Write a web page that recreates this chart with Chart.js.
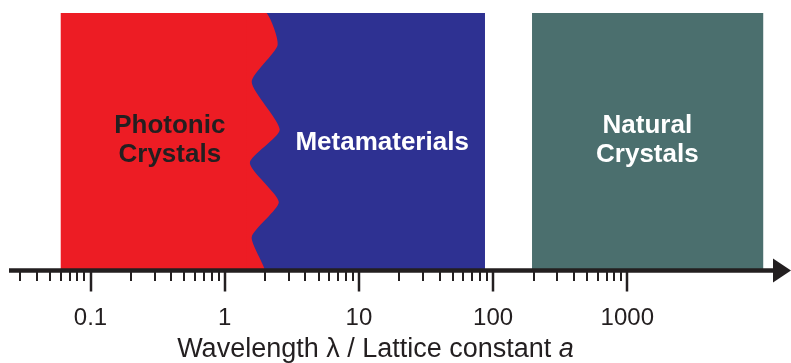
<!DOCTYPE html>
<html>
<head>
<meta charset="utf-8">
<script src="https://cdn.jsdelivr.net/npm/chart.js@4.4.1/dist/chart.umd.min.js"></script>
<style>
  html, body { margin: 0; padding: 0; background: #fff; }
  canvas { display: block; }
</style>
</head>
<body>
<canvas id="scaleChart" width="791" height="363"></canvas>
<script>
// Tick marks on the wavelength axis (minor 2..9 x 10^n, labelled decades)
const tickValues = [
  0.03, 0.04, 0.05, 0.06, 0.07, 0.08, 0.09,
  0.1, 0.2, 0.3, 0.4, 0.5, 0.6, 0.7, 0.8, 0.9,
  1, 2, 3, 4, 5, 6, 7, 8, 9,
  10, 20, 30, 40, 50, 60, 70, 80, 90,
  100, 200, 300, 400, 500, 600, 700, 800, 900,
  1000
];
const majorTicks = [0.1, 1, 10, 100, 1000];
const majorLabels = ['0.1', '1', '10', '100', '1000'];

// Regions (x = lambda / a, y = 0..1 band height)
// photonic crystals: flat part plus the wavy border towards metamaterials
const photonicX = [0.06, 1.5, 1.5, 0.06];
const photonicY = [1, 1, 0, 0];
const waveX = [1.45, 2.05, 2.48, 1.59, 2.57, 1.54, 2.53, 1.59, 1.99, 1.45];
const waveY = [1, 1, 0.876, 0.733, 0.547, 0.419, 0.267, 0.132, 0, 0];
const metaX = [1.5, 87, 87, 1.5];
const metaY = [1, 1, 0, 0];
const naturalX = [195, 10300, 10300, 195];
const naturalY = [1, 1, 0, 0];

const regionNames = [['Photonic', 'Crystals'], ['Metamaterials'], ['Natural', 'Crystals']];
const regionLabelX = [0.39, 14.9, 1410];
const regionLabelY = [0.515, 0.506, 0.515];
const regionTextColors = ['#231f20', '#ffffff', '#ffffff'];

const ink = '#231f20';
const red = '#ed1c24';
const blue = '#2e3192';
const teal = '#4b6f6e';
const fontFamily = "'Liberation Sans', Arial, Helvetica, sans-serif";

const toPoints = (xs, ys) => xs.map((x, i) => ({ x, y: ys[i] }));

function region(label, xs, ys, color, tension) {
  return {
    label,
    data: toPoints(xs, ys),
    showLine: true,
    fill: 'shape',
    backgroundColor: color,
    borderWidth: 0,
    pointRadius: 0,
    tension: tension || 0
  };
}

// axis line, tick marks, arrow, region names and axis title
const decor = {
  id: 'decor',
  afterDatasetsDraw(chart) {
    const { ctx, scales: { x, y } } = chart;
    ctx.save();
    ctx.font = 'bold 26px ' + fontFamily;
    ctx.textAlign = 'center';
    ctx.textBaseline = 'alphabetic';
    regionNames.forEach((lines, i) => {
      const cx = x.getPixelForValue(regionLabelX[i]);
      const cy = y.getPixelForValue(regionLabelY[i]);
      const lh = 29;
      const first = cy + 9.3 - (lines.length - 1) * lh / 2;
      ctx.fillStyle = regionTextColors[i];
      lines.forEach((t, j) => ctx.fillText(t, cx, first + j * lh));
    });
    ctx.restore();
  },
  afterDraw(chart) {
    const { ctx, chartArea: area, scales: { x } } = chart;
    const axisY = area.bottom - 0.5;
    ctx.save();
    ctx.strokeStyle = ink;
    ctx.fillStyle = ink;

    // axis line
    ctx.lineWidth = 4.5;
    ctx.beginPath();
    ctx.moveTo(area.left, axisY);
    ctx.lineTo(area.right + 2, axisY);
    ctx.stroke();

    // arrow head
    ctx.beginPath();
    ctx.moveTo(area.right, axisY - 12);
    ctx.lineTo(area.right + 18, axisY);
    ctx.lineTo(area.right, axisY + 12);
    ctx.closePath();
    ctx.fill();

    // ticks
    tickValues.forEach(v => {
      const px = Math.round(x.getPixelForValue(v));
      const major = majorTicks.includes(v);
      ctx.lineWidth = major ? 2.5 : 2;
      ctx.beginPath();
      ctx.moveTo(px, axisY);
      ctx.lineTo(px, axisY + (major ? 21 : 10.5));
      ctx.stroke();
    });

    // axis title with italic "a"
    const main = 'Wavelength \u03bb / Lattice constant ';
    const sym = 'a';
    ctx.font = '27px ' + fontFamily;
    const w1 = ctx.measureText(main).width;
    ctx.font = 'italic 27px ' + fontFamily;
    const w2 = ctx.measureText(sym).width;
    const start = 375.5 - (w1 + w2) / 2;
    ctx.textAlign = 'left';
    ctx.textBaseline = 'alphabetic';
    ctx.font = '27px ' + fontFamily;
    ctx.fillText(main, start, chart.height - 6);
    ctx.font = 'italic 27px ' + fontFamily;
    ctx.fillText(sym, start + w1, chart.height - 6);
    ctx.restore();
  }
};

new Chart(document.getElementById('scaleChart'), {
  type: 'scatter',
  data: {
    datasets: [
      region('Photonic Crystals (border)', waveX, waveY, red, 0.2),
      region('Photonic Crystals', photonicX, photonicY, red),
      region('Metamaterials', metaX, metaY, blue),
      region('Natural Crystals', naturalX, naturalY, teal)
    ]
  },
  options: {
    responsive: false,
    animation: false,
    layout: { padding: { left: 9, right: 18, top: 13, bottom: 30 } },
    plugins: { legend: { display: false }, tooltip: { enabled: false } },
    scales: {
      x: {
        type: 'logarithmic',
        min: 0.0247,
        max: 12180,
        afterBuildTicks: scale => {
          scale.ticks = tickValues.map(v => ({ value: v }));
        },
        afterFit: scale => {
          scale.height = 62;
          scale.paddingLeft = 0;
          scale.paddingRight = 0;
        },
        border: { display: false },
        grid: { display: false, drawTicks: false },
        ticks: {
          autoSkip: false,
          maxRotation: 0,
          padding: 33,
          color: ink,
          font: { family: fontFamily, size: 24 },
          callback: v => {
            const i = majorTicks.indexOf(v);
            return i >= 0 ? majorLabels[i] : '';
          }
        }
      },
      y: {
        type: 'linear',
        min: 0,
        max: 1,
        display: false
      }
    }
  },
  plugins: [decor]
});
</script>
</body>
</html>
